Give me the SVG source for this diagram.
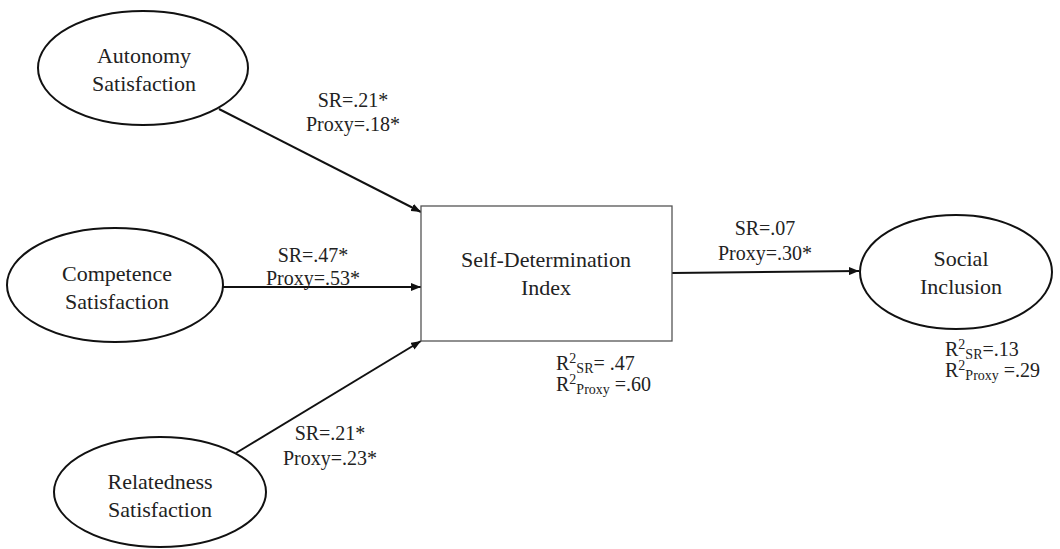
<svg xmlns="http://www.w3.org/2000/svg" width="1060" height="549" viewBox="0 0 1060 549">
<style>
  .node { fill: #ffffff; stroke: #111; stroke-width: 2; }
  .box { fill: #ffffff; stroke: #555; stroke-width: 1.3; }
  text { font-family: 'Liberation Serif', 'Times New Roman', serif; fill: #222; }
  .lbl { font-size: 22px; text-anchor: middle; }
  .coef { font-size: 20px; text-anchor: middle; }
  .r2 { font-size: 20px; }
  .sm { font-size: 14px; }
  .edge { stroke: #111; stroke-width: 2; fill: none; marker-end: url(#arr); }
</style>
<defs>
  <marker id="arr" viewBox="0 0 10 8" refX="10" refY="4" markerWidth="10" markerHeight="8" markerUnits="userSpaceOnUse" orient="auto">
    <path d="M0,0 L10,4 L0,8 Z" fill="#111"/>
  </marker>
</defs>
<rect width="1060" height="549" fill="#ffffff"/>

<g id="connectors">
  <line class="edge" x1="219" y1="109" x2="421" y2="212"/>
  <line class="edge" x1="223" y1="287" x2="421" y2="287"/>
  <line class="edge" x1="236" y1="453" x2="421" y2="341"/>
  <line class="edge" x1="672" y1="273" x2="859" y2="271"/>
  <g id="edge-labels">
    <text class="coef" x="353" y="107">SR=.21*</text>
    <text class="coef" x="353" y="131">Proxy=.18*</text>
    <text class="coef" x="313" y="262">SR=.47*</text>
    <text class="coef" x="313" y="285">Proxy=.53*</text>
    <text class="coef" x="330" y="440">SR=.21*</text>
    <text class="coef" x="330" y="465">Proxy=.23*</text>
    <text class="coef" x="765" y="235">SR=.07</text>
    <text class="coef" x="765" y="260">Proxy=.30*</text>
  </g>
</g>

<g id="autonomy">
  <ellipse class="node" cx="143" cy="68" rx="105" ry="57"/>
  <text class="lbl" x="144" y="63">Autonomy</text>
  <text class="lbl" x="144" y="91">Satisfaction</text>
</g>

<g id="competence">
  <ellipse class="node" cx="115" cy="285" rx="108" ry="57"/>
  <text class="lbl" x="117" y="281">Competence</text>
  <text class="lbl" x="117" y="309">Satisfaction</text>
</g>

<g id="relatedness">
  <ellipse class="node" cx="160" cy="492" rx="106" ry="55"/>
  <text class="lbl" x="160" y="489">Relatedness</text>
  <text class="lbl" x="160" y="517">Satisfaction</text>
</g>

<g id="sdi">
  <rect class="box" x="421" y="206" width="251" height="135"/>
  <text class="lbl" x="546" y="267">Self-Determination</text>
  <text class="lbl" x="546" y="295">Index</text>
  <text class="r2" x="556" y="370">R<tspan class="sm" dy="-7">2</tspan><tspan class="sm" dy="10">SR</tspan><tspan dy="-3">= .47</tspan></text>
  <text class="r2" x="556" y="391">R<tspan class="sm" dy="-7">2</tspan><tspan class="sm" dy="10">Proxy</tspan><tspan dy="-3"> =.60</tspan></text>
</g>

<g id="social-inclusion">
  <ellipse class="node" cx="956" cy="272" rx="96" ry="57"/>
  <text class="lbl" x="961" y="266">Social</text>
  <text class="lbl" x="961" y="294">Inclusion</text>
  <text class="r2" x="945" y="356">R<tspan class="sm" dy="-7">2</tspan><tspan class="sm" dy="10">SR</tspan><tspan dy="-3">=.13</tspan></text>
  <text class="r2" x="945" y="377">R<tspan class="sm" dy="-7">2</tspan><tspan class="sm" dy="10">Proxy</tspan><tspan dy="-3"> =.29</tspan></text>
</g>
</svg>
